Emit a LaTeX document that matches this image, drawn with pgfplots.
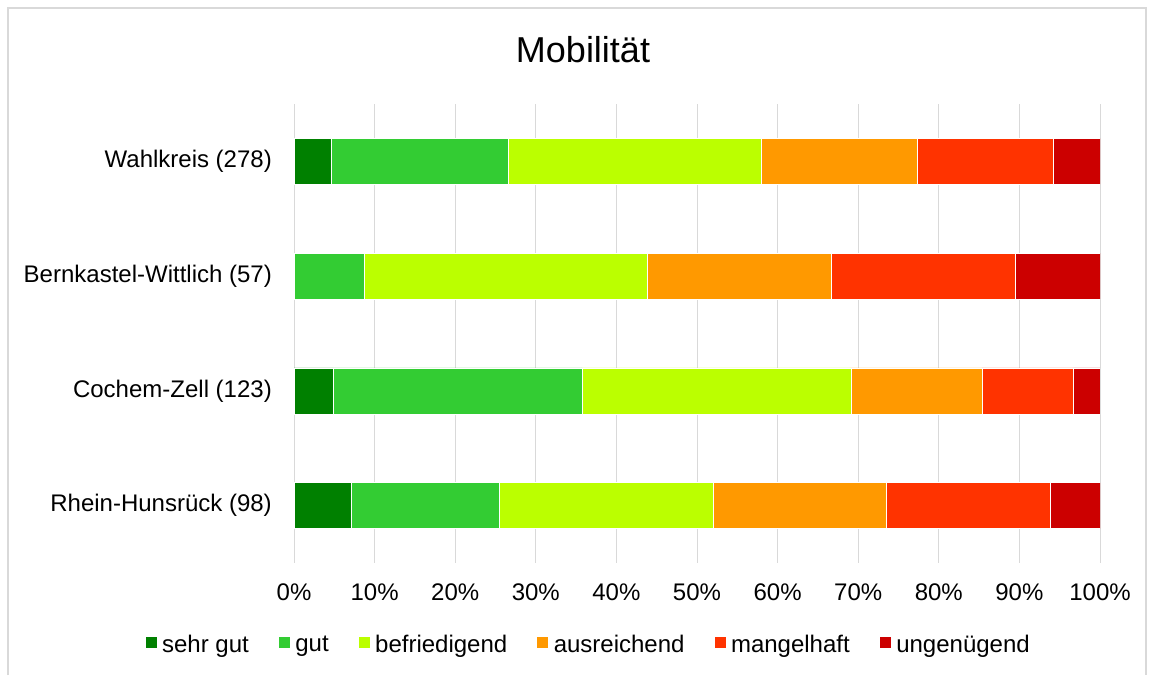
\documentclass[border=0pt]{standalone}
\usepackage{pgfplots}
\pgfplotsset{compat=1.18}
\usepackage{fontspec}
\setmainfont{Liberation Sans}
\definecolor{gridc}{HTML}{D9D9D9}
\definecolor{cA}{HTML}{008000}
\definecolor{cB}{HTML}{33CC33}
\definecolor{cC}{HTML}{BBFF00}
\definecolor{cD}{HTML}{FF9900}
\definecolor{cE}{HTML}{FF3300}
\definecolor{cF}{HTML}{CC0000}
\begin{document}
\begin{tikzpicture}[x=1pt,y=1pt]
\useasboundingbox (0,0) rectangle (1154,675);
\fill[white] (0,0) rectangle (1154,675);
\draw[color=gridc, line width=1.5pt] (8,0) -- (8,667) -- (1146,667) -- (1146,0);
\node[font=\fontsize{36}{40}\selectfont] at (583,625) {Mobilität};
\begin{axis}[
  at={(294pt,112pt)}, anchor=south west,
  scale only axis, width=806pt, height=459pt,
  xbar stacked, bar width=46pt,
  xmin=0, xmax=100, ymin=-0.5, ymax=3.5, y dir=reverse,
  ytick={0,1,2,3},
  yticklabels={Wahlkreis (278), Bernkastel-Wittlich (57), Cochem-Zell (123), Rhein-Hunsrück (98)},
  xtick={0,10,20,30,40,50,60,70,80,90,100},
  xticklabels={0\%,10\%,20\%,30\%,40\%,50\%,60\%,70\%,80\%,90\%,100\%},
  xmajorgrids, grid style={color=gridc, line width=1pt},
  axis line style={draw=none}, major tick length=0,
  tick label style={font=\fontsize{24}{28}\selectfont},
  yticklabel style={anchor=east, inner sep=0pt, xshift=-22pt},
  xticklabel style={anchor=base, inner sep=0pt, yshift=-37pt},
  legend columns=6,
  legend style={draw=none, at={(0.365,-0.1785)}, anchor=center,
    font=\fontsize{24}{28}\selectfont,
    nodes={inner xsep=2pt, inner ysep=0pt},
    /tikz/every odd column/.append style={column sep=3pt},
    /tikz/every even column/.append style={column sep=27pt}},
  legend image code/.code={\fill[#1] (0pt,-3pt) rectangle (12pt,9pt);},
  every axis plot/.append style={draw=white, line width=0.5pt},
]
\addplot[fill=cA, draw=white] coordinates {(4.68,0) (0,1) (4.88,2) (7.14,3)};
\addplot[fill=cB, draw=white] coordinates {(21.94,0) (8.77,1) (30.89,2) (18.37,3)};
\addplot[fill=cC, draw=white] coordinates {(31.29,0) (35.09,1) (33.33,2) (26.53,3)};
\addplot[fill=cD, draw=white] coordinates {(19.42,0) (22.81,1) (16.26,2) (21.43,3)};
\addplot[fill=cE, draw=white] coordinates {(16.91,0) (22.81,1) (11.38,2) (20.41,3)};
\addplot[fill=cF, draw=white] coordinates {(5.76,0) (10.53,1) (3.25,2) (6.12,3)};
\legend{sehr gut, gut, befriedigend, ausreichend, mangelhaft, ungenügend}
\end{axis}
\end{tikzpicture}
\end{document}
